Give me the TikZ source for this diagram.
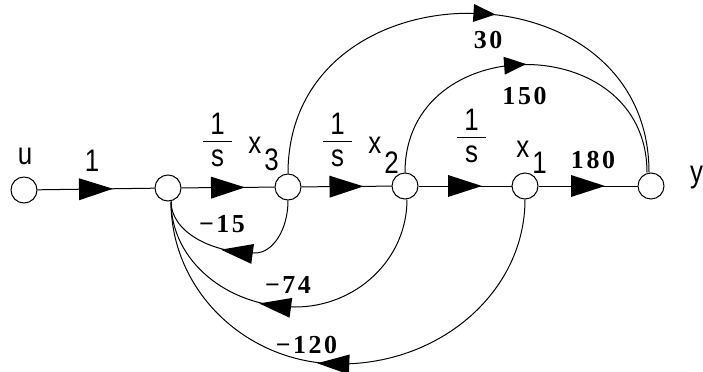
\documentclass[tikz,border=0pt]{standalone}
\usepackage{fontspec}
\setmainfont{Liberation Sans}
\newfontfamily\numfont[LetterSpace=10]{Liberation Serif}
\usepackage{graphicx}
\usetikzlibrary{decorations.markings}
\tikzset{
  sfgnode/.style={circle,draw,line width=1bp,minimum size=26bp,inner sep=0pt},
  branch/.style={line width=1bp},
  harrow/.style={postaction={decorate},decoration={markings,mark=at position #1 with {\fill (-17,-11)--(17,0)--(-17,11)--cycle;}}},
  uarrow/.style={postaction={decorate},decoration={markings,mark=at position #1 with {\fill (-11,-9)--(11,0)--(-11,9)--cycle;}}},
  larrow/.style={postaction={decorate},decoration={markings,mark=at position #1 with {\fill (-16,-10)--(16,0)--(-16,10)--cycle;}}},
  lbl/.style={inner sep=0pt,font=\fontsize{26}{26}\selectfont},
  gain/.style={inner sep=0pt,font=\numfont\bfseries\fontsize{26}{26}\selectfont},
}
\newcommand\stretched[1]{\scalebox{1}[1.2]{#1}}
\newcommand\invs{\stretched{\vbox{\offinterlineskip\hbox to 29bp{\hss 1\hss}\kern5.6bp\hrule height 0.9bp\kern6.3bp\hbox to 29bp{\hss s\hss}}}}
\newcommand\xsub[2]{\stretched{x\kern3bp\raisebox{-#2}{#1}}}
\begin{document}
\begin{tikzpicture}[x=1bp,y=1bp]
\useasboundingbox (0,0) rectangle (703,371);
% nodes
\node[sfgnode] (u)  at (24,181) {};
\node[sfgnode] (n1) at (168,183) {};
\node[sfgnode] (x3) at (288,184) {};
\node[sfgnode] (x2) at (405,185) {};
\node[sfgnode] (x1) at (525,185) {};
\node[sfgnode] (y)  at (651,185) {};
% forward branches
\draw[branch,harrow=0.5] (u) -- (n1);
\draw[branch,harrow=0.5] (n1) -- (x3);
\draw[branch,harrow=0.5] (x3) -- (x2);
\draw[branch,harrow=0.5] (x2) -- (x1);
\draw[branch,harrow=0.5] (x1) -- (y);
% upper arcs
\draw[branch,uarrow=0.53] (x3.north) .. controls +(0,213) and +(0,213) .. ([xshift=-2bp]y.north);
\draw[branch,uarrow=0.47] (x2.north) .. controls +(0,144) and +(0,144) .. ([xshift=-4bp]y.north);
% feedback arcs
\coordinate (b1) at (255,118);
\coordinate (b2) at (295,64);
\coordinate (b3) at (340,7);
\draw[branch,larrow=0.49] (x3.south) .. controls +(0,-29) and +(18,0) .. (b1) .. controls +(-46,0) and +(0,-29) .. ([xshift=3bp]n1.south);
\draw[branch,larrow=0.545] ([xshift=2bp]x2.south) .. controls +(0,-60) and +(61,0) .. (b2) .. controls +(-68,0) and +(0,-59) .. ([xshift=3bp]n1.south);
\draw[branch,larrow=0.526] (x1.south) .. controls +(0,-91) and +(102,0) .. (b3) .. controls +(-93,0) and +(0,-90) .. ([xshift=3bp]n1.south);
% labels
\node[lbl] (lu) at (25,214.5) {\stretched{u}};
\node[lbl] (l1) at (92,210) {\stretched{1}};
\node[lbl] (s1) at (217.5,231) {\invs};
\node[lbl] (s2) at (337.5,231) {\invs};
\node[lbl] (s3) at (471.5,235) {\invs};
\node[lbl] (lx3) at (263.5,217) {\xsub{3}{14.2bp}};
\node[lbl] (lx2) at (383.5,215.5) {\xsub{2}{16.7bp}};
\node[lbl] (lx1) at (531.5,213.5) {\xsub{1}{13.3bp}};
\node[lbl,anchor=base west] (ly) at (690,189) {\stretched{y}};
% gains
\node[gain] (g30)  at (488,331) {30};
\node[gain] (g150) at (524.5,275) {150};
\node[gain] (g180) at (593,211) {180};
\node[gain] (g15)  at (222,146.5) {−15};
\node[gain] (g74)  at (288,86) {−74};
\node[gain] (g120) at (306.5,26) {−120};
\end{tikzpicture}
\end{document}
